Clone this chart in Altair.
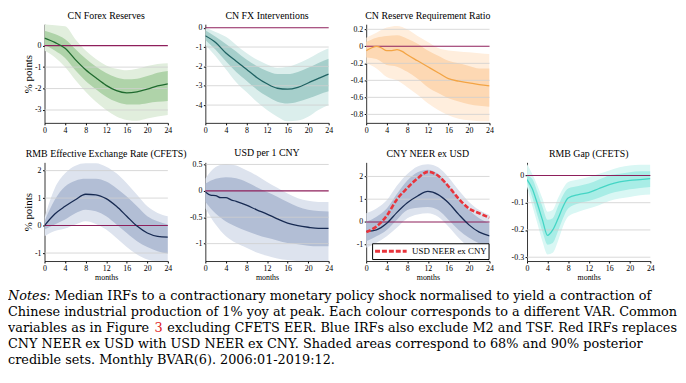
import altair as alt
import pandas as pd

M = [0, 2, 4, 6, 8, 10, 12, 14, 16, 18, 20, 22, 24]
XTICKS = [0, 4, 8, 12, 16, 20, 24]

# CN Forex Reserves
FXR_MED = [0.35, 0.15, -0.12, -0.65, -1.12, -1.5, -1.85, -2.1, -2.2, -2.15, -2.03, -1.88, -1.78]
FXR_U68 = [0.7, 0.54, 0.3, -0.15, -0.6, -0.97, -1.28, -1.48, -1.57, -1.54, -1.42, -1.26, -1.18]
FXR_L68 = [0.03, -0.23, -0.58, -1.15, -1.65, -2.03, -2.38, -2.62, -2.74, -2.74, -2.68, -2.62, -2.58]
FXR_U90 = [1.0, 0.95, 0.9, 0.3, -0.23, -0.62, -0.92, -1.08, -1.15, -1.08, -0.95, -0.85, -0.82]
FXR_L90 = [-0.23, -0.54, -1.0, -1.6, -2.15, -2.62, -3.0, -3.3, -3.46, -3.5, -3.4, -3.3, -3.23]

# CN FX Interventions
FXI_MED = [-0.42, -0.77, -1.31, -1.73, -2.15, -2.57, -2.9, -3.13, -3.18, -3.08, -2.86, -2.62, -2.4]
FXI_U68 = [-0.13, -0.47, -0.84, -1.23, -1.65, -1.98, -2.24, -2.4, -2.4, -2.29, -2.07, -1.82, -1.61]
FXI_L68 = [-0.64, -1.14, -1.73, -2.29, -2.74, -3.19, -3.55, -3.83, -3.92, -3.83, -3.66, -3.46, -3.29]
FXI_U90 = [0.0, -0.22, -0.47, -0.89, -1.31, -1.65, -1.9, -2.07, -2.02, -1.85, -1.61, -1.31, -1.06]
FXI_L90 = [-0.89, -1.48, -2.15, -2.82, -3.33, -3.83, -4.25, -4.6, -4.84, -4.8, -4.6, -4.25, -4.0]

# CN Reserve Requirement Ratio
RRR_MM = [0, 1, 2, 3, 4, 5, 6, 7, 8, 10, 12, 14, 16, 18, 20, 22, 24]
RRR_MED = [-0.05, -0.02, 0.0, -0.02, -0.05, -0.05, -0.04, -0.06, -0.1, -0.17, -0.24, -0.31, -0.38, -0.41, -0.43, -0.45, -0.465]
RRR_U68 = [0.05, 0.1, 0.12, 0.13, 0.09, 0.03, -0.05, -0.11, -0.17, -0.2, -0.23, -0.26, -0.26]
RRR_L68 = [-0.13, -0.15, -0.22, -0.24, -0.3, -0.38, -0.48, -0.55, -0.61, -0.65, -0.68, -0.7, -0.71]
RRR_U90 = [0.1, 0.16, 0.22, 0.24, 0.2, 0.12, 0.05, -0.02, -0.05, -0.06, -0.07, -0.08, -0.09]
RRR_L90 = [-0.2, -0.26, -0.36, -0.4, -0.48, -0.57, -0.67, -0.75, -0.81, -0.85, -0.87, -0.88, -0.88]

# RMB Effective Exchange Rate (CFETS)
EER_MED = [0.0, 0.42, 0.7, 0.94, 1.14, 1.12, 0.98, 0.7, 0.34, -0.02, -0.27, -0.39, -0.42]
EER_U68 = [0.16, 0.94, 1.42, 1.63, 1.7, 1.7, 1.6, 1.36, 1.06, 0.7, 0.34, 0.16, 0.04]
EER_L68 = [-0.14, 0.04, 0.22, 0.45, 0.58, 0.52, 0.34, 0.04, -0.27, -0.57, -0.78, -0.93, -1.02]
EER_U90 = [0.28, 1.36, 1.9, 2.18, 2.27, 2.27, 2.14, 1.9, 1.54, 1.12, 0.7, 0.46, 0.34]
EER_L90 = [-0.39, -0.2, -0.11, 0.04, 0.16, 0.06, -0.14, -0.45, -0.78, -1.05, -1.23, -1.29, -1.29]

# USD per 1 CNY
USD_MM = [0, 1, 2, 3, 4, 5, 6, 8, 10, 12, 14, 16, 18, 20, 22, 24]
USD_MED = [-0.02, -0.08, -0.09, -0.13, -0.13, -0.17, -0.2, -0.27, -0.36, -0.44, -0.53, -0.61, -0.66, -0.69, -0.71, -0.71]
USD_U68 = [0.14, 0.23, 0.26, 0.24, 0.17, 0.07, -0.02, -0.11, -0.21, -0.3, -0.36, -0.38, -0.39]
USD_L68 = [-0.21, -0.43, -0.58, -0.68, -0.76, -0.83, -0.89, -0.94, -0.99, -1.01, -1.04, -1.05, -1.05]
USD_U90 = [0.23, 0.45, 0.51, 0.48, 0.39, 0.29, 0.17, 0.06, -0.05, -0.14, -0.19, -0.21, -0.21]
USD_L90 = [-0.33, -0.64, -0.86, -0.99, -1.08, -1.17, -1.23, -1.28, -1.31, -1.33, -1.33, -1.33, -1.33]

# CNY NEER ex USD (blue) and USD NEER ex CNY (red)
NEER_MED = [-0.42, -0.35, -0.06, 0.42, 0.84, 1.14, 1.34, 1.2, 0.84, 0.33, -0.13, -0.45, -0.61]
NEER_RED = [-0.45, -0.2, 0.27, 1.0, 1.49, 1.92, 2.2, 2.03, 1.57, 1.02, 0.59, 0.38, 0.19]
NEER_U68 = [0.0, 0.23, 0.59, 1.24, 1.82, 2.18, 2.3, 2.11, 1.6, 1.02, 0.52, 0.16, -0.06]
NEER_L68 = [-0.85, -0.63, -0.35, 0.1, 0.52, 0.62, 0.66, 0.52, 0.1, -0.35, -0.7, -0.95, -1.14]
NEER_U90 = [0.38, 0.59, 0.95, 1.6, 2.11, 2.44, 2.54, 2.4, 1.96, 1.39, 0.88, 0.52, 0.3]
NEER_L90 = [-1.14, -0.92, -0.63, -0.25, 0.16, 0.33, 0.38, 0.23, -0.2, -0.71, -1.14, -1.5, -1.72]

# RMB Gap (CFETS)
GAP_MM = [0, 1, 2, 3, 4, 5, 6, 7, 8, 10, 12, 14, 16, 18, 20, 22, 24]
GAP_MED = [-0.015, -0.048, -0.103, -0.163, -0.22, -0.2, -0.16, -0.115, -0.083, -0.07, -0.063, -0.048, -0.034, -0.024, -0.018, -0.015, -0.012]
GAP_U68 = [0.0, -0.012, -0.06, -0.115, -0.163, -0.157, -0.115, -0.073, -0.048, -0.039, -0.03, -0.015, 0.0, 0.006, 0.012, 0.015, 0.015]
GAP_L68 = [-0.024, -0.079, -0.145, -0.206, -0.254, -0.248, -0.206, -0.157, -0.121, -0.103, -0.094, -0.082, -0.067, -0.058, -0.051, -0.046, -0.042]
GAP_U90 = [0.042, 0.006, -0.036, -0.085, -0.133, -0.127, -0.085, -0.048, -0.024, -0.015, -0.006, 0.006, 0.018, 0.03, 0.036, 0.039, 0.039]
GAP_L90 = [-0.042, -0.109, -0.175, -0.242, -0.29, -0.284, -0.242, -0.187, -0.151, -0.133, -0.121, -0.109, -0.094, -0.085, -0.079, -0.073, -0.07]

NOTE_LINES = [
    "Median IRFs to a contractionary monetary policy shock normalised to yield a contraction of",
    "Chinese industrial production of 1% yoy at peak. Each colour corresponds to a different VAR. Common",
    "",
    "CNY NEER ex USD with USD NEER ex CNY. Shaded areas correspond to 68% and 90% posterior",
    "credible sets. Monthly BVAR(6). 2006:01-2019:12.",
]
NOTE_L3A = "variables as in Figure"
NOTE_L3B = "3"
NOTE_L3C = "excluding CFETS EER. Blue IRFs also exclude M2 and TSF. Red IRFs replaces"

SERIF = "'Liberation Serif', 'Times New Roman', serif"
W, H = 125, 100
ZERO = "#8E1F5B"


def yaxis(ticks, title):
    kw = dict(values=ticks, labelExpr="'' + datum.value", grid=False,
              labelFont=SERIF, labelFontSize=8, labelColor="black", labelPadding=1.5,
              domainColor="black", domainWidth=0.8, tickColor="black", tickSize=2)
    if title:
        kw.update(title=title, titleFont=SERIF, titleFontSize=11, titleFontWeight="normal",
                  titleColor="black", titlePadding=1)
    else:
        kw.update(title=None)
    return alt.Axis(**kw)


def xaxis(title):
    kw = dict(values=XTICKS, grid=False, labelFont=SERIF, labelFontSize=8, labelColor="black",
              labelPadding=1.5, domainColor="black", domainWidth=0.8, tickColor="black",
              tickSize=2, labelFlush=False)
    if title:
        kw.update(title=title, titleFont=SERIF, titleFontSize=8, titleFontWeight="normal",
                  titleColor="black", titlePadding=1)
    else:
        kw.update(title=None)
    return alt.Axis(**kw)


def panel(title, bm, l90, u90, l68, u68, mm, med, dom, ticks, c90, c68, cmed,
          ytitle=None, xtitle=None, red=None):
    bands = pd.DataFrame({"m": bm, "l90": l90, "u90": u90, "l68": l68, "u68": u68})
    mdf = pd.DataFrame({"m": mm, "v": med})
    ysc = alt.Scale(domain=dom, nice=False, zero=False)
    yax = yaxis(ticks, ytitle)
    xsc = alt.Scale(domain=[0, 24], nice=False, zero=False)
    X = alt.X("m:Q", scale=xsc, axis=xaxis(xtitle))

    def Y(f):
        return alt.Y(f, type="quantitative", scale=ysc, axis=yax)

    base = alt.Chart(bands)
    a90 = base.mark_area(color=c90, opacity=1, interpolate="monotone", clip=True).encode(
        x=X, y=Y("l90"), y2="u90")
    a68 = base.mark_area(color=c68, opacity=1, interpolate="monotone", clip=True).encode(
        x=X, y=Y("l68"), y2="u68")
    grid = alt.Chart(pd.DataFrame({"v": [t for t in ticks if t != 0]})).mark_rule(
        color="#cfcfcf", strokeWidth=0.8).encode(y=Y("v"))
    zero = alt.Chart(pd.DataFrame({"v": [0]})).mark_rule(
        color=ZERO, strokeWidth=1.1).encode(y=Y("v"))
    line = alt.Chart(mdf).mark_line(color=cmed, strokeWidth=1.3, interpolate="monotone",
                                    clip=True).encode(x=X, y=Y("v"))
    layers = [a90, a68, grid, zero, line]
    if red is not None:
        rdf = pd.DataFrame({"m": bm, "v": red, "s": "USD NEER ex CNY"})
        rl = alt.Chart(rdf).mark_line(strokeWidth=2.6, strokeDash=[5, 2],
                                      interpolate="monotone", clip=True).encode(
            x=X, y=Y("v"),
            color=alt.Color("s:N", scale=alt.Scale(domain=["USD NEER ex CNY"], range=["#E8343C"]),
                            legend=alt.Legend(orient="none", legendX=332, legendY=222, title=None,
                                              fillColor="white", strokeColor="black", padding=1.5,
                                              symbolType="M-1,0H5.4", symbolStrokeWidth=3,
                                              symbolDash=[5, 2], symbolSize=100,
                                              labelOffset=26,
                                              labelFont=SERIF, labelFontSize=9,
                                              labelColor="black")))
        layers.append(rl)
    t = alt.TitleParams(text=title, font=SERIF, fontSize=10, fontWeight="normal", color="black",
                        offset=3)
    return alt.layer(*layers).properties(width=W, height=H, title=t)


GREEN = ("#e1eedd", "#afd3a9", "#1f6a2e")
TEAL = ("#dbeeec", "#a6cfcb", "#1f6262")
ORANGE = ("#ffeedd", "#fdd8b3", "#f3a444")
BLUE = ("#dde3ee", "#b2bed5", "#172a52")
CYAN = ("#d9f7f4", "#a8ede6", "#44d5c5")

p1 = panel("CN Forex Reserves", M, FXR_L90, FXR_U90, FXR_L68, FXR_U68, M, FXR_MED,
           [-3.6, 1.0], [-3, -2, -1, 0], *GREEN, ytitle="% points")
p2 = panel("CN FX Interventions", M, FXI_L90, FXI_U90, FXI_L68, FXI_U68, M, FXI_MED,
           [-4.92, 0.18], [-4, -3, -2, -1, 0], *TEAL)
p3 = panel("CN Reserve Requirement Ratio", M, RRR_L90, RRR_U90, RRR_L68, RRR_U68, RRR_MM, RRR_MED,
           [-0.9, 0.26], [-0.8, -0.6, -0.4, -0.2, 0, 0.2], *ORANGE)
blank = alt.Chart(pd.DataFrame({"m": [0]})).mark_point(opacity=0).encode(
    x=alt.X("m:Q", axis=None), y=alt.Y("m:Q", axis=None)).properties(width=W, height=H)
p4 = panel("RMB Effective Exchange Rate (CFETS)", M, EER_L90, EER_U90, EER_L68, EER_U68, M, EER_MED,
           [-1.29, 2.3], [-1, 0, 1, 2], *BLUE, ytitle="% points", xtitle="months")
p5 = panel("USD per 1 CNY", M, USD_L90, USD_U90, USD_L68, USD_U68, USD_MM, USD_MED,
           [-1.33, 0.54], [-1, -0.5, 0, 0.5], *BLUE, xtitle="months")
p6 = panel("CNY NEER ex USD", M, NEER_L90, NEER_U90, NEER_L68, NEER_U68, M, NEER_MED,
           [-1.72, 2.62], [-1, 0, 1, 2], *BLUE, xtitle="months", red=NEER_RED)
p7 = panel("RMB Gap (CFETS)", GAP_MM, GAP_L90, GAP_U90, GAP_L68, GAP_U68, GAP_MM, GAP_MED,
           [-0.314, 0.048], [-0.3, -0.2, -0.1, 0], *CYAN, xtitle="months")

NFONT = "DejaVu Serif"
NSIZE = 13
ny = alt.Y("line:Q", scale=alt.Scale(domain=[0, 4], range=[0, 64]), axis=None)


def note(df, dx, color="black", style="normal"):
    return alt.Chart(df).mark_text(align="left", baseline="alphabetic", font=NFONT,
                                   fontSize=NSIZE, color=color, fontStyle=style, dx=dx).encode(
        x=alt.value(0), y=ny, text="text:N")


notes_it = note(pd.DataFrame({"line": [0], "text": ["Notes:"]}), -37, style="italic")
notes_l1 = note(pd.DataFrame({"line": [0], "text": [NOTE_LINES[0]]}), 10)
notes_other = note(pd.DataFrame({"line": [1, 3, 4],
                                 "text": [NOTE_LINES[1], NOTE_LINES[3], NOTE_LINES[4]]}), -37)
l3a = note(pd.DataFrame({"line": [2], "text": [NOTE_L3A]}), -37)
l3b = note(pd.DataFrame({"line": [2], "text": [NOTE_L3B]}), 111.5, color="#e0201c")
l3c = note(pd.DataFrame({"line": [2], "text": [NOTE_L3C]}), 124.5)
notes = alt.layer(notes_it, notes_l1, notes_other, l3a, l3b, l3c).properties(width=W, height=64)

chart = alt.concat(p1, p2, p3, blank, p4, p5, p6, p7, notes, columns=4,
                   spacing={"row": 40, "column": 38}, bounds="flush").properties(
    padding={"left": 0, "top": 0, "right": 0, "bottom": 0}
).configure_view(stroke=None)

chart.save("out.html", embed_options={"renderer": "svg", "actions": False})
